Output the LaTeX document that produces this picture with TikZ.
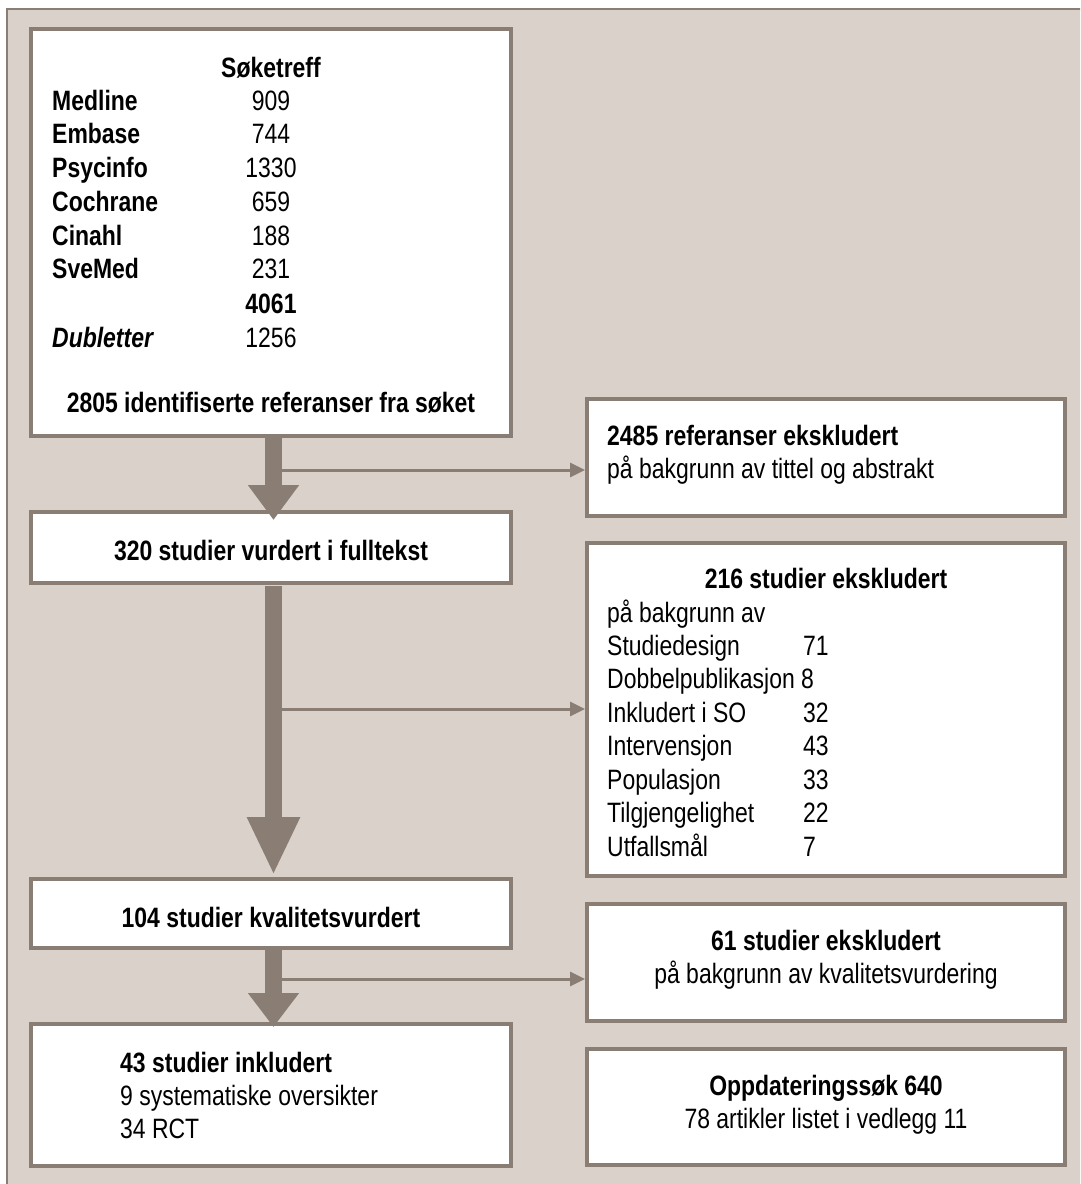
\documentclass[tikz,border=0pt]{standalone}
\usepackage{fontspec}
\setmainfont{Liberation Sans}[FakeStretch=0.82]
\usetikzlibrary{arrows.meta,calc}
\definecolor{bg}{RGB}{217,209,202}
\definecolor{fr}{RGB}{137,125,116}
\begin{document}
\begin{tikzpicture}[x=1pt,y=-1pt,
  box/.style={draw=fr,line width=4pt,fill=white,inner sep=0pt,outer sep=0pt,anchor=center},
  txt/.style={inner sep=0pt,font=\fontsize{28}{34}\selectfont},
  bt/.style={inner sep=0pt,font=\fontsize{28}{34}\selectfont\bfseries},
  bit/.style={inner sep=0pt,font=\fontsize{28}{34}\selectfont\bfseries\itshape},
  bigarrow/.style={draw=fr,line width=17pt,-{Triangle[width=49pt,length=#1]}},
  sidearrow/.style={draw=fr,line width=3pt,-{Triangle[width=14pt,length=15pt]}}]
\useasboundingbox (0,0) rectangle (1080,1184);
\begin{scope}
\clip (0,0) rectangle (1080,1184);
\fill[white] (0,0) rectangle (1080,1184);
\draw[fr,line width=2pt,fill=bg] (7,9) rectangle (1100,1200);
\end{scope}
% boxes
\node[box,minimum width=480pt,minimum height=407pt] (b1) at (271,232.5) {};
\node[box,minimum width=480pt,minimum height=71pt] (b320) at (271,547.5) {};
\node[box,minimum width=480pt,minimum height=69pt] (b104) at (271,913.5) {};
\node[box,minimum width=480pt,minimum height=142pt] (b43) at (271,1095) {};
\node[box,minimum width=478pt,minimum height=117pt] (b2485) at (826,457.5) {};
\node[box,minimum width=478pt,minimum height=333pt] (b216) at (826,709.5) {};
\node[box,minimum width=478pt,minimum height=117pt] (b61) at (826,962.5) {};
\node[box,minimum width=478pt,minimum height=116pt] (bopp) at (826,1107) {};
% box 1 text
\node[bt,anchor=base] (s0) at (271,77) {Søketreff};
\node[bt,anchor=base west] (l1) at (52,110) {Medline};
\node[bt,anchor=base west] (l2) at (52,143.5) {Embase};
\node[bt,anchor=base west] (l3) at (52,177) {Psycinfo};
\node[bt,anchor=base west] (l4) at (52,211) {Cochrane};
\node[bt,anchor=base west] (l5) at (52,245) {Cinahl};
\node[bt,anchor=base west] (l6) at (52,278.5) {SveMed};
\node[bit,anchor=base west] (l8) at (52,347) {Dubletter};
\node[txt,anchor=base] (n1) at (271,110) {909};
\node[txt,anchor=base] (n2) at (271,143.5) {744};
\node[txt,anchor=base] (n3) at (271,177) {1330};
\node[txt,anchor=base] (n4) at (271,211) {659};
\node[txt,anchor=base] (n5) at (271,245) {188};
\node[txt,anchor=base] (n6) at (271,278.5) {231};
\node[bt,anchor=base] (n7) at (271,313) {4061};
\node[txt,anchor=base] (n8) at (271,347) {1256};
\node[bt,anchor=base] (s9) at (271,412) {2805 identifiserte referanser fra søket};
% left column texts
\node[bt,anchor=base] (t320) at (271,560) {320 studier vurdert i fulltekst};
\node[bt,anchor=base] (t104) at (271,927) {104 studier kvalitetsvurdert};
\node[bt,anchor=base west] (t43a) at (120,1072) {43 studier inkludert};
\node[txt,anchor=base west] (t43b) at (120,1105) {9 systematiske oversikter};
\node[txt,anchor=base west] (t43c) at (120,1138) {34 RCT};
% right column texts
\node[bt,anchor=base west] (r1a) at (607,445) {2485 referanser ekskludert};
\node[txt,anchor=base west] (r1b) at (607,478) {på bakgrunn av tittel og abstrakt};
\node[bt,anchor=base] (r2a) at (826,588) {216 studier ekskludert};
\node[txt,anchor=base west] (r2b) at (607,622) {på bakgrunn av};
\node[txt,anchor=base west] (r2c) at (607,655) {Studiedesign};
\node[txt,anchor=base west] (r2d) at (607,688.5) {Dobbelpublikasjon 8};
\node[txt,anchor=base west] (r2e) at (607,722) {Inkludert i SO};
\node[txt,anchor=base west] (r2f) at (607,755.5) {Intervensjon};
\node[txt,anchor=base west] (r2g) at (607,789) {Populasjon};
\node[txt,anchor=base west] (r2h) at (607,822.5) {Tilgjengelighet};
\node[txt,anchor=base west] (r2i) at (607,856) {Utfallsmål};
\node[txt,anchor=base west] (m1) at (803,655) {71};
\node[txt,anchor=base west] (m3) at (803,722) {32};
\node[txt,anchor=base west] (m4) at (803,755.5) {43};
\node[txt,anchor=base west] (m5) at (803,789) {33};
\node[txt,anchor=base west] (m6) at (803,822.5) {22};
\node[txt,anchor=base west] (m7) at (803,856) {7};
\node[bt,anchor=base] (r3a) at (826,950) {61 studier ekskludert};
\node[txt,anchor=base] (r3b) at (826,983) {på bakgrunn av kvalitetsvurdering};
\node[bt,anchor=base] (r4a) at (826,1095) {Oppdateringssøk 640};
\node[txt,anchor=base] (r4b) at (826,1128) {78 artikler listet i vedlegg 11};
% big arrows
\coordinate (a1s) at ($(b1.south)+(2.5,0)$);
\coordinate (a1e) at ($(b320.north)+(2.5,8)$);
\coordinate (a2s) at ($(b320.south)+(2.5,3)$);
\coordinate (a2e) at ($(b104.north)+(2.5,-4)$);
\coordinate (a3s) at ($(b104.south)+(2.5,0)$);
\coordinate (a3e) at ($(b43.north)+(2.5,3)$);
\draw[bigarrow=35pt] (a1s) -- (a1e);
\draw[bigarrow=58pt] (a2s) -- (a2e);
\draw[bigarrow=34pt] (a3s) -- (a3e);
% side arrows
\coordinate (j1) at (282,470);
\coordinate (j2) at (282,709);
\coordinate (j3) at (282,979);
\draw[sidearrow] (j1) -- ($(j1 -| b2485.west)+(-2,0)$);
\draw[sidearrow] (j2) -- ($(j2 -| b216.west)+(-2,0)$);
\draw[sidearrow] (j3) -- ($(j3 -| b61.west)+(-2,0)$);
\end{tikzpicture}
\end{document}
